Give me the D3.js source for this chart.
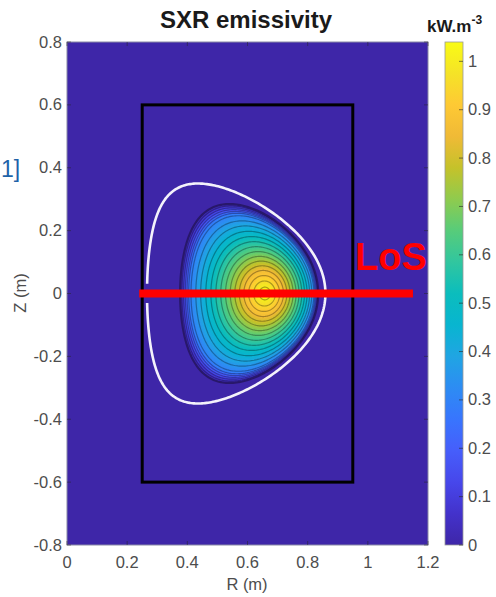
<!DOCTYPE html>
<html><head><meta charset="utf-8">
<script src="https://cdn.jsdelivr.net/npm/d3@7"></script>
<style>body{margin:0;background:#fff;} text{font-family:"Liberation Sans",Arial,Helvetica,sans-serif;}</style>
</head><body><svg id="c" width="496" height="597"></svg>
<script>
// ---------- data ----------
const rTicks = [0, 0.2, 0.4, 0.6, 0.8, 1, 1.2];
const zTicks = [-0.8, -0.6, -0.4, -0.2, 0, 0.2, 0.4, 0.6, 0.8];
const cbTicks = [0, 0.1, 0.2, 0.3, 0.4, 0.5, 0.6, 0.7, 0.8, 0.9, 1];
const cbMax = 1.04;
const contourLevels = [0.05,0.10,0.15,0.20,0.25,0.30,0.35,0.40,0.45,0.50,0.55,0.60,0.65,0.70,0.75,0.80,0.85,0.90,0.95,1.00];
// radial emissivity profile (normalised flux radius -> kW/m3)
const rhoGrid     = [0, 0.1, 0.2, 0.3, 0.4, 0.5, 0.6, 0.7, 0.8, 0.9, 1.0];
const emisProfile = [1.04,0.99,0.92,0.84,0.75,0.66,0.57,0.48,0.39,0.29,0.0];
// emission region geometry
const axisR = 0.658, axisZ = 0.0;
const edgeCenterR = 0.6055, edgeMinor = 0.2295, edgeKappa = 1.24, coreKappa = 1.1, edgeDelta = 0.285;
// last closed flux surface (white)
const lcfsR0 = 0.5625, lcfsA = 0.2965, lcfsKappa = 1.18, lcfsDelta = 0.43, lcfsGapZ = 0.03;
// vessel box
const vesselR = [0.25, 0.95], vesselZ = [-0.6, 0.6];
// line of sight
const losR = [0.24, 1.15], losZ = 0;

// parula colormap anchors
const parula = [[0.2422,0.1504,0.6603],[0.2647,0.1978,0.7952],[0.2803,0.2782,0.9221],[0.2760,0.3667,0.9829],
[0.2206,0.4603,0.9973],[0.1764,0.5499,0.9520],[0.1248,0.6459,0.8883],[0.0297,0.7082,0.8163],
[0.0433,0.7411,0.7394],[0.1938,0.7758,0.6251],[0.3406,0.8008,0.4789],[0.5616,0.7942,0.3045],
[0.7738,0.7598,0.1646],[0.9393,0.7288,0.2100],[0.9952,0.7893,0.2028],[0.9610,0.8890,0.1537],[0.9769,0.9839,0.0805]];
const parulaCols = parula.map(c => d3.rgb(c[0]*255, c[1]*255, c[2]*255).toString());
const cmap = d3.scaleLinear().domain(d3.range(parulaCols.length).map(i => i/(parulaCols.length-1)*cbMax))
  .range(parulaCols).interpolate(d3.interpolateRgb).clamp(true);

// ---------- layout ----------
const svg = d3.select("#c");
const x = d3.scaleLinear().domain([0, 1.2]).range([67, 428]);
const y = d3.scaleLinear().domain([-0.8, 0.8]).range([545, 42]);
const tickCol = "#4d4d4d";

svg.append("defs").append("clipPath").attr("id","clip").append("rect")
  .attr("x",67).attr("y",42).attr("width",361).attr("height",503);

const g = svg.append("g").attr("clip-path","url(#clip)");
g.append("rect").attr("x",67).attr("y",42).attr("width",361).attr("height",503).attr("fill",cmap(0));

// profile inversion
function rhoOf(v){
  for (let i=0;i<rhoGrid.length-1;i++){
    const a=emisProfile[i], b=emisProfile[i+1];
    if (v<=a && v>=b){ return rhoGrid[i] + (a-v)/(a-b)*(rhoGrid[i+1]-rhoGrid[i]); }
  }
  return 0;
}
function surface(rho){
  const Rc = axisR - (axisR-edgeCenterR)*rho*rho;
  const a = edgeMinor*rho, k = coreKappa + (edgeKappa-coreKappa)*rho*rho, d = Math.asin(edgeDelta*rho*rho);
  return d3.range(0, 2*Math.PI, Math.PI/120).map(t => [x(Rc + a*Math.cos(t + d*Math.sin(t))), y(axisZ + k*a*Math.sin(t))]);
}
const line = d3.line().curve(d3.curveLinearClosed);

// smooth filled shading
const shadeLevels = d3.range(0, 1.035, 0.01);
shadeLevels.forEach(v => {
  const r = rhoOf(v);
  if (r<=0) return;
  g.append("path").attr("d", line(surface(r))).attr("fill", cmap(v+0.005)).attr("stroke", cmap(v+0.005)).attr("stroke-width",0.4);
});
// contour lines
contourLevels.forEach(v => {
  const r = rhoOf(v);
  if (r<=0) return;
  g.append("path").attr("d", line(surface(r))).attr("fill","none")
   .attr("stroke", d3.color(cmap(v)).darker(1.3)).attr("stroke-opacity",0.85).attr("stroke-width",1.2);
});
// edge of emission
g.append("path").attr("d", line(surface(1))).attr("fill","none").attr("stroke","#1a0f40").attr("stroke-opacity",0.6).attr("stroke-width",2.2);

// vessel box
g.append("rect").attr("x",x(vesselR[0])).attr("y",y(vesselZ[1]))
 .attr("width",x(vesselR[1])-x(vesselR[0])).attr("height",y(vesselZ[0])-y(vesselZ[1]))
 .attr("fill","none").attr("stroke","#000").attr("stroke-width",3);

// LCFS (white) with gap at left midplane
const gap = Math.asin(lcfsGapZ/(lcfsKappa*lcfsA));
const dL = Math.asin(lcfsDelta);
const lcfsPts = d3.range(-Math.PI+gap, Math.PI-gap+1e-9, Math.PI/180).map(t =>
  [x(lcfsR0 + lcfsA*Math.cos(t + dL*Math.sin(t))), y(lcfsKappa*lcfsA*Math.sin(t))]);
g.append("path").attr("d", d3.line()(lcfsPts)).attr("fill","none").attr("stroke","#f4f2fb").attr("stroke-width",2.6);

// line of sight
g.append("line").attr("x1",x(losR[0])).attr("x2",x(losR[1])).attr("y1",y(losZ)).attr("y2",y(losZ))
 .attr("stroke","#ff0000").attr("stroke-width",8);

// axes box + ticks
svg.append("rect").attr("x",67).attr("y",42).attr("width",361).attr("height",503)
 .attr("fill","none").attr("stroke","#8a8aa6").attr("stroke-width",1);
const tl = 4;
rTicks.forEach(t => {
  svg.append("line").attr("x1",x(t)).attr("x2",x(t)).attr("y1",545).attr("y2",545-tl).attr("stroke","#262626").attr("stroke-opacity",0.5);
  svg.append("line").attr("x1",x(t)).attr("x2",x(t)).attr("y1",42).attr("y2",42+tl).attr("stroke","#262626").attr("stroke-opacity",0.5);
  svg.append("text").attr("x",x(t)).attr("y",568).attr("text-anchor","middle").attr("font-size",16.5).attr("fill",tickCol).text(String(t));
});
zTicks.forEach(t => {
  svg.append("line").attr("x1",67).attr("x2",67+tl).attr("y1",y(t)).attr("y2",y(t)).attr("stroke","#262626").attr("stroke-opacity",0.5);
  svg.append("line").attr("x1",428).attr("x2",428-tl).attr("y1",y(t)).attr("y2",y(t)).attr("stroke","#262626").attr("stroke-opacity",0.5);
  svg.append("text").attr("x",62).attr("y",y(t)+5.5).attr("text-anchor","end").attr("font-size",16.5).attr("fill",tickCol).text(String(t));
});
svg.append("text").attr("x",247).attr("y",590).attr("text-anchor","middle").attr("font-size",16.5).attr("fill",tickCol).text("R (m)");
svg.append("text").attr("transform","translate(26,293) rotate(-90)").attr("text-anchor","middle").attr("font-size",16.5).attr("fill",tickCol).text("Z (m)");

// title
svg.append("text").attr("x",246).attr("y",28).attr("text-anchor","middle").attr("font-size",24).attr("font-weight","bold").attr("fill","#1a1a1a").text("SXR emissivity");

// colorbar
const cy = d3.scaleLinear().domain([0, cbMax]).range([545, 42]);
const grad = svg.select("defs").append("linearGradient").attr("id","cb").attr("x1",0).attr("x2",0).attr("y1",1).attr("y2",0);
parulaCols.forEach((c,i) => grad.append("stop").attr("offset", i/(parulaCols.length-1)).attr("stop-color", c));
svg.append("rect").attr("x",445).attr("y",cy(cbMax)).attr("width",18).attr("height",cy(0)-cy(cbMax))
 .attr("fill","url(#cb)").attr("stroke","#9a9a9a").attr("stroke-width",0.8);
cbTicks.forEach(t => {
  svg.append("line").attr("x1",463).attr("x2",459).attr("y1",cy(t)).attr("y2",cy(t)).attr("stroke","#262626").attr("stroke-opacity",0.6);
  svg.append("text").attr("x",468).attr("y",cy(t)+5.5).attr("font-size",16.5).attr("fill",tickCol).text(String(t));
});
const unit = svg.append("text").attr("x",427).attr("y",32).attr("font-size",17).attr("font-weight","bold").attr("fill","#1a1a1a");
unit.append("tspan").text("kW.m");
unit.append("tspan").attr("dy",-8).attr("font-size",12).text("-3");

// annotations
svg.append("text").attr("x",355).attr("y",270).attr("font-size",38).attr("font-weight","bold").attr("fill","#ff0000").text("LoS");
svg.append("text").attr("x",1).attr("y",177).attr("font-size",23).attr("fill","#1f63a8").text("1]");
</script></body></html>
